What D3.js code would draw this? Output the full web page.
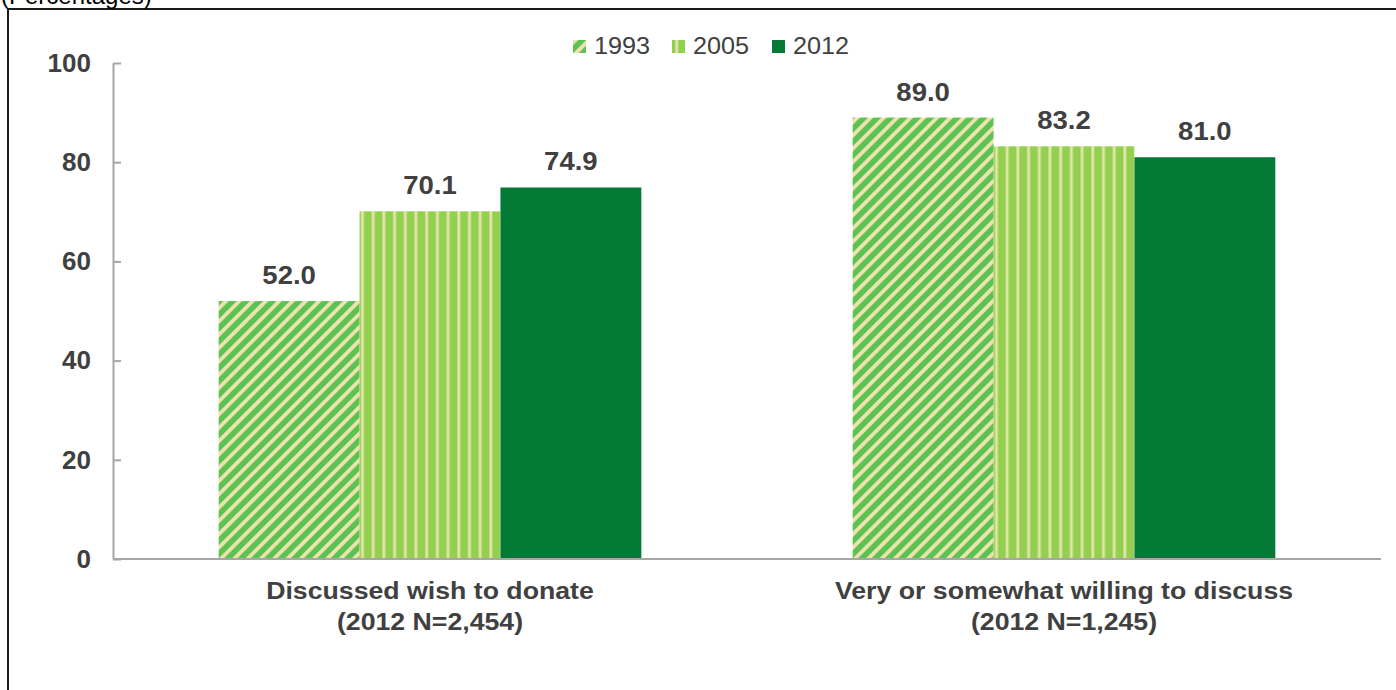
<!DOCTYPE html>
<html>
<head>
<meta charset="utf-8">
<script src="https://cdn.jsdelivr.net/npm/d3@7"></script>
<style>
  html, body { margin: 0; padding: 0; background: #fff; }
  svg { display: block; font-family: "Liberation Sans", Arial, sans-serif; }
</style>
</head>
<body>
<svg id="chart" width="1396" height="690"></svg>
<script>
// Organ donation attitudes, percentages by survey year
const categoryLine1 = ["Discussed wish to donate", "Very or somewhat willing to discuss"];
const categoryLine2 = ["(2012 N=2,454)", "(2012 N=1,245)"];
const years = ["1993", "2005", "2012"];
const values1993 = [52.0, 89.0];
const values2005 = [70.1, 83.2];
const values2012 = [74.9, 81.0];
const yTicks = [0, 20, 40, 60, 80, 100];

const seriesValues = [values1993, values2005, values2012];
const textColor = "#404040";

const svg = d3.select("#chart");
const defs = svg.append("defs");

// Widen text glyphs horizontally by a factor, keeping the anchor in place
function widen(sel, factor) {
  sel.each(function () {
    const len = this.getComputedTextLength();
    d3.select(this)
      .attr("textLength", len * factor)
      .attr("lengthAdjust", "spacingAndGlyphs");
  });
}

// Diagonal stripes for 1993
const p1 = defs.append("pattern")
  .attr("id", "pat1993")
  .attr("patternUnits", "userSpaceOnUse")
  .attr("width", 9.4).attr("height", 9.4)
  .attr("patternTransform", "rotate(45)");
p1.append("rect").attr("width", 9.4).attr("height", 9.4).attr("fill", "#5cc351");
p1.append("rect").attr("x", 0).attr("width", 3.8).attr("height", 9.4).attr("fill", "#ebe2b0");

// Vertical pinstripes for 2005
const p2 = defs.append("pattern")
  .attr("id", "pat2005")
  .attr("patternUnits", "userSpaceOnUse")
  .attr("width", 10.7).attr("height", 10);
p2.append("rect").attr("width", 10.7).attr("height", 10).attr("fill", "#92d050");
p2.append("rect").attr("x", 3).attr("width", 3.4).attr("height", 10).attr("fill", "#c6dd84");
p2.append("rect").attr("x", 3.8).attr("width", 1.8).attr("height", 10).attr("fill", "#e8e4ae");

const fills = ["url(#pat1993)", "url(#pat2005)", "#047a36"];

// Outer frame
svg.append("rect")
  .attr("x", 8).attr("y", 9)
  .attr("width", 1420).attr("height", 720)
  .attr("fill", "none").attr("stroke", "#1a1a1a").attr("stroke-width", 2);

svg.append("text")
  .attr("x", 1).attr("y", 4)
  .attr("font-size", 24).attr("fill", "#000")
  .text("(Percentages)");

const plotLeft = 113, plotRight = 1381, plotTop = 63, plotBottom = 559;

const x0 = d3.scaleBand()
  .domain(d3.range(categoryLine1.length))
  .range([plotLeft, plotRight])
  .paddingInner(1 / 3)
  .paddingOuter(1 / 6);

const x1 = d3.scaleBand()
  .domain(years)
  .range([0, x0.bandwidth()]);

const y = d3.scaleLinear().domain([0, 100]).range([plotBottom, plotTop]);

// Bars
const groups = svg.append("g").selectAll("g")
  .data(d3.range(categoryLine1.length))
  .join("g")
  .attr("transform", i => `translate(${x0(i)},0)`);

groups.selectAll("rect")
  .data(i => years.map((yr, s) => ({ yr, s, v: seriesValues[s][i] })))
  .join("rect")
  .attr("x", d => x1(d.yr))
  .attr("width", x1.bandwidth())
  .attr("y", d => y(d.v))
  .attr("height", d => y(0) - y(d.v))
  .attr("fill", d => fills[d.s]);

groups.selectAll("text.val")
  .data(i => years.map((yr, s) => ({ yr, s, v: seriesValues[s][i] })))
  .join("text")
  .attr("class", "val")
  .attr("x", d => x1(d.yr) + x1.bandwidth() / 2)
  .attr("y", d => y(d.v) - 17)
  .attr("text-anchor", "middle")
  .attr("font-size", 25).attr("font-weight", "bold")
  .attr("fill", textColor)
  .text(d => d3.format(".1f")(d.v))
  .call(widen, 1.1);

// Y axis with inward ticks
const yAxis = svg.append("g")
  .attr("transform", `translate(${plotLeft},0)`)
  .call(d3.axisLeft(y).tickValues(yTicks).tickSizeInner(-8).tickSizeOuter(0).tickPadding(22));
yAxis.select(".domain").attr("stroke", "#a6a6a6").attr("stroke-width", 2);
yAxis.selectAll(".tick line").attr("stroke", "#a6a6a6").attr("stroke-width", 2);
yAxis.selectAll(".tick text")
  .attr("font-size", 26).attr("font-weight", "bold")
  .attr("fill", textColor)
  .attr("font-family", "Liberation Sans, Arial, sans-serif");

// Category baseline
svg.append("line")
  .attr("x1", plotLeft).attr("x2", plotRight)
  .attr("y1", plotBottom).attr("y2", plotBottom)
  .attr("stroke", "#a6a6a6").attr("stroke-width", 2);

// Category labels
const catLabels = svg.append("g").selectAll("g")
  .data(d3.range(categoryLine1.length))
  .join("g");
catLabels.append("text")
  .attr("x", i => x0(i) + x0.bandwidth() / 2).attr("y", 599)
  .attr("text-anchor", "middle")
  .attr("font-size", 23).attr("font-weight", "bold")
  .attr("fill", textColor)
  .text(i => categoryLine1[i])
  .call(widen, 1.16);
catLabels.append("text")
  .attr("x", i => x0(i) + x0.bandwidth() / 2).attr("y", 630)
  .attr("text-anchor", "middle")
  .attr("font-size", 23).attr("font-weight", "bold")
  .attr("fill", textColor)
  .text(i => categoryLine2[i])
  .call(widen, 1.16);

// Legend
const legendX = [573, 672, 772];
const legend = svg.append("g").selectAll("g")
  .data(years)
  .join("g")
  .attr("transform", (d, i) => `translate(${legendX[i]},40)`);
legend.append("rect")
  .attr("width", 13).attr("height", 13)
  .attr("fill", (d, i) => fills[i]);
legend.append("text")
  .attr("x", 21).attr("y", 14)
  .attr("font-size", 24).attr("fill", textColor)
  .text(d => d)
  .call(widen, 1.05);
</script>
</body>
</html>
